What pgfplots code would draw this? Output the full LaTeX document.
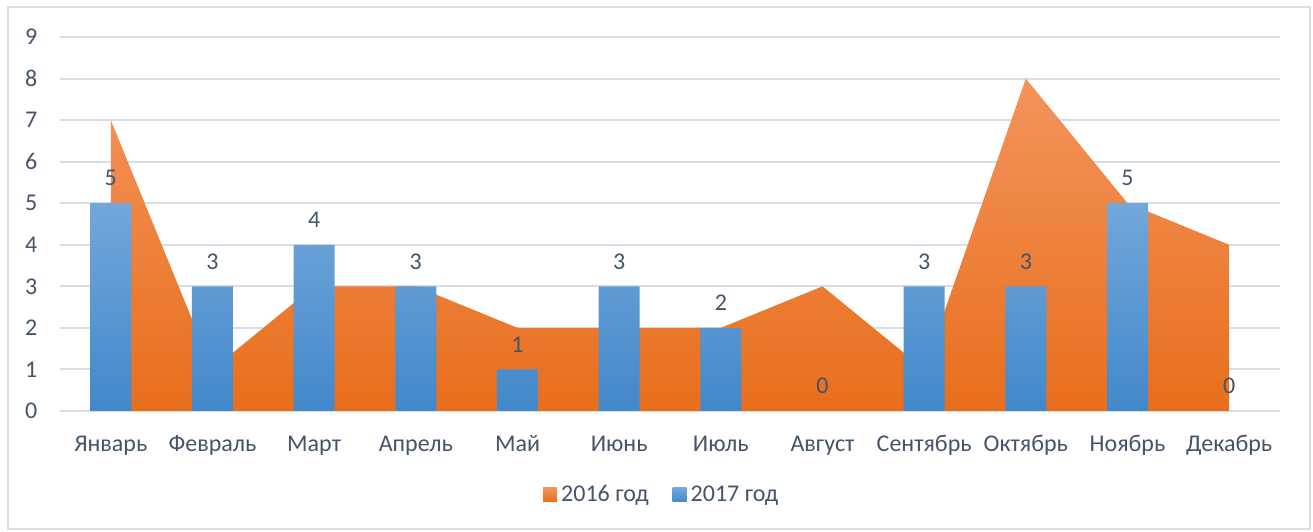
\documentclass[border=0pt]{standalone}
\usepackage{fontspec}
\setmainfont{Carlito}
\usepackage{pgfplots}
\pgfplotsset{compat=1.18}
\definecolor{txt}{RGB}{68,84,106}
\definecolor{grd}{RGB}{217,222,228}
\definecolor{otop}{RGB}{243,148,92}
\definecolor{obot}{RGB}{232,110,28}
\definecolor{btop}{RGB}{114,167,219}
\definecolor{bbot}{RGB}{66,136,202}

\begin{document}
\begin{tikzpicture}
\begin{axis}[
  scale only axis, width=610pt, height=187pt,
  xmin=-0.5, xmax=11.5, ymin=0, ymax=9,
  xtick={0,...,11},
  xticklabels={Январь,Февраль,Март,Апрель,Май,Июнь,Июль,Август,Сентябрь,Октябрь,Ноябрь,Декабрь},
  ytick={0,...,9},
  ymajorgrids, grid style={grd, line width=1pt},
  axis line style={draw=none},
  major tick length=0pt,
  tick label style={font=\fontsize{12}{14}\selectfont, text=txt},
  xticklabel style={text height=8.5pt, text depth=2pt, yshift=-8pt},
  yticklabel style={xshift=-7.8pt},
  /pgf/number format/assume math mode=true,
  clip=false,
  legend columns=2,
  legend style={at={(0.494,-0.2246)}, anchor=center, draw=none, fill=none,
    font=\fontsize{12}{14}\selectfont, text=txt,
    /tikz/every even column/.append style={column sep=10pt}},
]
% page bounds and chart frame
\path (rel axis cs:-0.04918,-0.32353) rectangle (rel axis cs:1.02705,1.09893);
\draw[grd, line width=0.8pt] (rel axis cs:-0.04262,-0.31551) rectangle (rel axis cs:1.02459,1.08021);

% 2016 (area)
\addplot[draw=none, top color=otop, bottom color=obot, forget plot] coordinates
{(0,7) (1,1) (2,3) (3,3) (4,2) (5,2) (6,2) (7,3) (8,1) (9,8) (10,5) (11,4)} \closedcycle;

% 2017 (columns)
\addplot[ybar, bar width=20.5pt, bar shift=0pt, draw=none, top color=btop, bottom color=bbot,
  nodes near coords, forget plot,
  every node near coord/.append style={font=\fontsize{12}{14}\selectfont, text=txt, anchor=south, yshift=5pt}]
coordinates {(0,5) (1,3) (2,4) (3,3) (4,1) (5,3) (6,2) (8,3) (9,3) (10,5)};
\addplot[ybar, bar width=20.5pt, bar shift=0pt, draw=none, fill=none,
  nodes near coords, forget plot,
  every node near coord/.append style={font=\fontsize{12}{14}\selectfont, text=txt, anchor=south, yshift=5pt}]
coordinates {(7,0) (11,0)};

\addlegendimage{draw=none, legend image code/.code={\shade[draw=none, top color=otop, bottom color=obot] (0pt,-3.5pt) rectangle (7pt,3.5pt);}}
\addlegendentry{2016 год}
\addlegendimage{draw=none, legend image code/.code={\shade[draw=none, top color=btop, bottom color=bbot] (0pt,-3.5pt) rectangle (7pt,3.5pt);}}
\addlegendentry{2017 год}
\end{axis}
\end{tikzpicture}
\end{document}
